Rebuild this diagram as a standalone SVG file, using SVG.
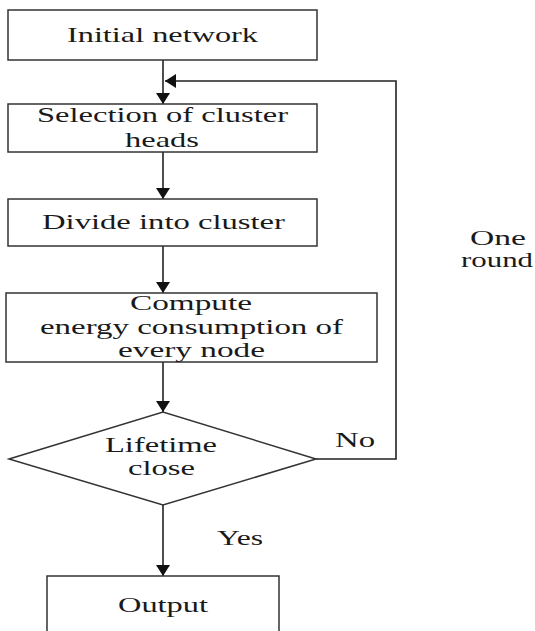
<svg xmlns="http://www.w3.org/2000/svg" width="535" height="631" viewBox="0 0 535 631">
<defs>
<marker id="arr" markerUnits="userSpaceOnUse" markerWidth="12" markerHeight="14" refX="11" refY="7" orient="auto">
<path d="M0,0 L11,7 L0,14 z" fill="#111"/>
</marker>
<style>
.box{fill:#fff;stroke:#333;stroke-width:1.5}
.ln{fill:none;stroke:#222;stroke-width:1.6}
.t{font-family:'Liberation Serif','Times New Roman',serif;font-size:21px;fill:#1a1a1a;text-anchor:middle}
</style>
</defs>
<rect width="535" height="631" fill="#fff"/>
<g id="connectors">
<line class="ln" x1="163" y1="60" x2="163" y2="104" marker-end="url(#arr)"/>
<line class="ln" x1="163" y1="152" x2="163" y2="199" marker-end="url(#arr)"/>
<line class="ln" x1="163" y1="246" x2="163" y2="293" marker-end="url(#arr)"/>
<line class="ln" x1="163" y1="362" x2="163" y2="412" marker-end="url(#arr)"/>
<line class="ln" x1="163" y1="505" x2="163" y2="576" marker-end="url(#arr)"/>
<polyline class="ln" points="316,459 396,459 396,81 165,81" marker-end="url(#arr)"/>
<text class="t" x="355" y="447" textLength="40" lengthAdjust="spacingAndGlyphs">No</text>
<text class="t" x="240" y="545" textLength="46" lengthAdjust="spacingAndGlyphs">Yes</text>
<text class="t" x="498" y="245" textLength="56" lengthAdjust="spacingAndGlyphs">One</text>
<text class="t" x="497" y="267" textLength="72" lengthAdjust="spacingAndGlyphs">round</text>
</g>
<g id="initial">
<rect class="box" x="8" y="10" width="309" height="50"/>
<text class="t" x="162.5" y="42" textLength="191" lengthAdjust="spacingAndGlyphs">Initial network</text>
</g>
<g id="selection">
<rect class="box" x="8" y="104" width="309" height="48"/>
<text class="t" x="162.5" y="122" textLength="251" lengthAdjust="spacingAndGlyphs">Selection of cluster</text>
<text class="t" x="162" y="147" textLength="74" lengthAdjust="spacingAndGlyphs">heads</text>
</g>
<g id="divide">
<rect class="box" x="8" y="199" width="309" height="47"/>
<text class="t" x="163.5" y="229" textLength="243" lengthAdjust="spacingAndGlyphs">Divide into cluster</text>
</g>
<g id="compute">
<rect class="box" x="6" y="293" width="371" height="69"/>
<text class="t" x="191" y="310" textLength="122" lengthAdjust="spacingAndGlyphs">Compute</text>
<text class="t" x="191.5" y="334" textLength="303" lengthAdjust="spacingAndGlyphs">energy consumption of</text>
<text class="t" x="191.5" y="357" textLength="147" lengthAdjust="spacingAndGlyphs">every node</text>
</g>
<g id="lifetime">
<polygon class="box" points="9,459 163,412 316,459 163,505"/>
<text class="t" x="161" y="452" textLength="112" lengthAdjust="spacingAndGlyphs">Lifetime</text>
<text class="t" x="161.5" y="475" textLength="67" lengthAdjust="spacingAndGlyphs">close</text>
</g>
<g id="output">
<rect class="box" x="47" y="576" width="232" height="70"/>
<text class="t" x="163" y="612" textLength="90" lengthAdjust="spacingAndGlyphs">Output</text>
</g>
</svg>
